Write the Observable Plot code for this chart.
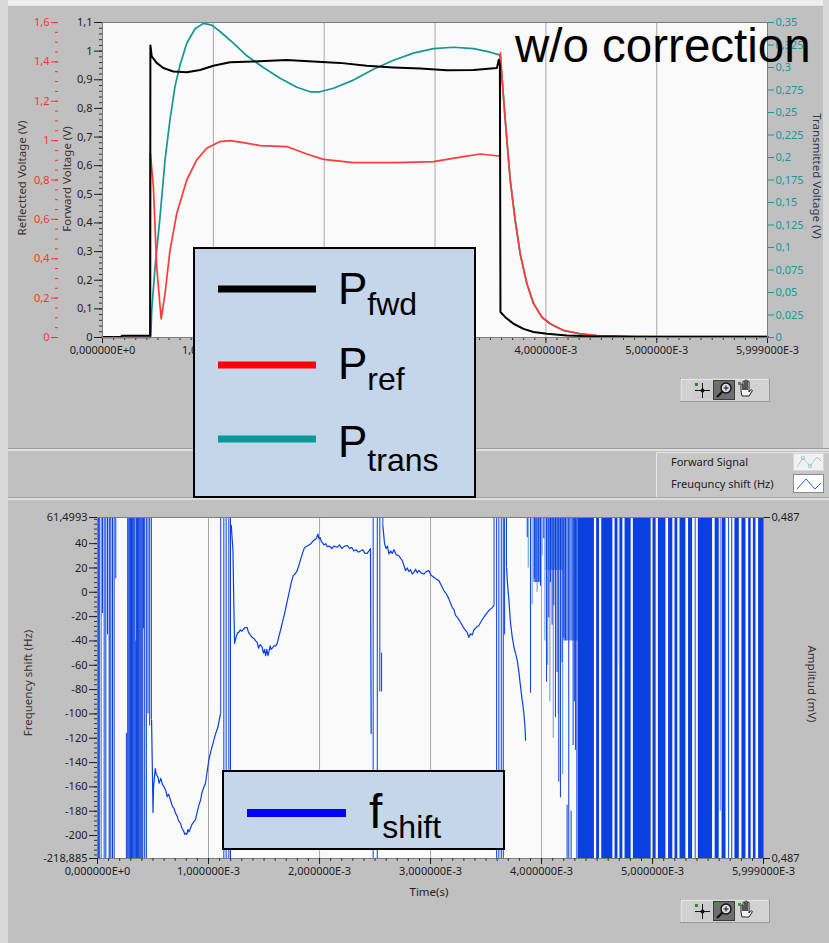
<!DOCTYPE html>
<html><head><meta charset="utf-8">
<script src="https://cdn.jsdelivr.net/npm/d3@7"></script>
<script src="https://cdn.jsdelivr.net/npm/@observablehq/plot@0.6"></script>
<style>
html,body{margin:0;padding:0;background:#c0c0c0;}
#root{position:relative;width:829px;height:943px;overflow:hidden;background:#c0c0c0;}
.bg{position:absolute;}
.layer{position:absolute;left:0;}
.layer svg{display:block;}
</style></head><body><div id="root">
<div class="bg" style="left:0;top:0;width:829px;height:5px;background:#eeeeee"></div>
<div class="bg" style="left:0;top:0;width:8px;height:943px;background:#d8d8d8"></div>
<div class="bg" style="left:823px;top:0;width:6px;height:450px;background:#d8d8d8"></div>
<div class="bg" style="left:8px;top:5px;width:815px;height:1px;background:#e4e4e4"></div>
<div class="bg" style="left:8px;top:448px;width:821px;height:1px;background:#9c9c9c"></div>
<div class="bg" style="left:8px;top:449px;width:821px;height:2px;background:#e2e2e2"></div>
<div class="bg" style="left:8px;top:497px;width:821px;height:1px;background:#a4a4a4"></div>
<div class="bg" style="left:8px;top:498px;width:821px;height:2px;background:#dedede"></div>
</div>
<script>
// ================= DATA: top panel (time in units of 1E-3 s) =================
const fwdTime = [0, 0.17, 0.175, 0.43, 0.432, 0.444, 0.489, 0.549, 0.639, 0.76, 0.88, 1.0, 1.151, 1.362, 1.662, 1.9, 2.143, 2.383, 2.625, 2.866, 3.106, 3.347, 3.558, 3.575, 3.585, 3.59, 3.633, 3.708, 3.798, 3.888, 4.009, 4.19, 4.4, 4.8, 5.999];
const fwdVolt = [0.002, 0.002, 0.006, 0.006, 1.02, 0.982, 0.959, 0.941, 0.929, 0.926, 0.934, 0.949, 0.961, 0.964, 0.969, 0.964, 0.959, 0.949, 0.943, 0.939, 0.933, 0.934, 0.941, 0.97, 0.95, 0.089, 0.071, 0.048, 0.030, 0.019, 0.013, 0.007, 0.004, 0.003, 0.003];

const refTime = [0, 0.43, 0.432, 0.459, 0.489, 0.529, 0.564, 0.609, 0.67, 0.76, 0.85, 0.94, 1.06, 1.151, 1.271, 1.421, 1.662, 1.843, 1.994, 2.264, 2.655, 2.986, 3.256, 3.407, 3.573, 3.586, 3.59, 3.603, 3.633, 3.678, 3.723, 3.768, 3.828, 3.888, 3.964, 4.039, 4.159, 4.31, 4.46, 4.58, 4.7, 5.999];
const refVolt = [0, 0, 0.936, 0.766, 0.358, 0.095, 0.223, 0.443, 0.63, 0.80, 0.902, 0.961, 0.995, 1.0, 0.99, 0.975, 0.97, 0.932, 0.905, 0.888, 0.888, 0.893, 0.919, 0.932, 0.922, 0.927, 1.446, 1.327, 1.106, 0.80, 0.596, 0.426, 0.274, 0.172, 0.103, 0.070, 0.036, 0.019, 0.010, 0.008, 0.004, 0.004];

const transTime = [0, 0.435, 0.444, 0.474, 0.519, 0.564, 0.609, 0.654, 0.70, 0.76, 0.835, 0.91, 0.986, 1.06, 1.181, 1.302, 1.451, 1.602, 1.753, 1.873, 1.963, 2.083, 2.264, 2.444, 2.625, 2.805, 2.986, 3.166, 3.347, 3.497, 3.581, 3.59, 3.603, 3.633, 3.678, 3.723, 3.768, 3.828, 3.888, 3.964, 4.039, 4.159, 4.31, 4.46, 4.8, 5.999];
const transVolt = [0, 0, 0.030, 0.078, 0.134, 0.197, 0.242, 0.279, 0.303, 0.327, 0.343, 0.349, 0.347, 0.340, 0.327, 0.313, 0.300, 0.288, 0.278, 0.273, 0.273, 0.277, 0.286, 0.298, 0.308, 0.316, 0.321, 0.3225, 0.321, 0.317, 0.314, 0.310, 0.290, 0.242, 0.175, 0.130, 0.093, 0.060, 0.038, 0.0226, 0.0153, 0.0078, 0.0041, 0.0022, 0.001, 0];

// tick values
const timeTicks = [0, 1, 2, 3, 4, 5, 5.999];
const gridTimes = [1, 2, 3, 4, 5];
const fwdTicks = [0, 0.1, 0.2, 0.3, 0.4, 0.5, 0.6, 0.7, 0.8, 0.9, 1, 1.1];
const refTicks = [0, 0.2, 0.4, 0.6, 0.8, 1, 1.2, 1.4, 1.6];
const transTicks = [0, 0.025, 0.05, 0.075, 0.1, 0.125, 0.15, 0.175, 0.2, 0.225, 0.25, 0.275, 0.3, 0.325, 0.35];

// ================= DATA: bottom panel =================
const HZ_MAX = 61.4993, HZ_MIN = -218.885;
const shiftTicks = [61.4993, 40, 20, 0, -20, -40, -60, -80, -100, -120, -140, -160, -180, -200, -218.885];
const ampTicks = [61.4993, -218.885];
const ampLabel = "0,487";

const shiftSeg1 = [[0.487,-105],[0.495,-150],[0.50,-181],[0.505,-160],[0.52,-145],[0.53,-150],[0.545,-152],[0.555,-157],[0.57,-153],[0.585,-158],[0.60,-160],[0.615,-163],[0.628,-168],[0.64,-166],[0.658,-171],[0.675,-176],[0.69,-178],[0.705,-182],[0.718,-184],[0.73,-188],[0.748,-190],[0.76,-194],[0.775,-196],[0.785,-199],[0.793,-198],[0.805,-199],[0.815,-195],[0.825,-197],[0.838,-194],[0.85,-191],[0.865,-189],[0.883,-187],[0.895,-182],[0.91,-176],[0.928,-171],[0.94,-165],[0.955,-161],[0.973,-157],[0.985,-149],[1.003,-138],[1.02,-131],[1.035,-126],[1.048,-121.5],[1.065,-116],[1.084,-111],[1.095,-106],[1.108,-100]];
const shiftSeg2 = [[1.205,55],[1.212,45],[1.22,35],[1.228,-10],[1.235,-42],[1.245,-38],[1.255,-35],[1.265,-33],[1.273,-33],[1.285,-31],[1.30,-32],[1.318,-30],[1.33,-29],[1.348,-29],[1.36,-33],[1.375,-35],[1.393,-37],[1.41,-38],[1.425,-40],[1.438,-41],[1.45,-46],[1.465,-43],[1.483,-45],[1.495,-50],[1.505,-47],[1.514,-52],[1.525,-47],[1.535,-52],[1.544,-49],[1.555,-44],[1.565,-47],[1.574,-46],[1.59,-44],[1.605,-44],[1.619,-42],[1.635,-36],[1.649,-31],[1.665,-25],[1.685,-17.5],[1.705,-9],[1.724,-1],[1.745,8],[1.763,13.7],[1.78,15],[1.799,17.8],[1.82,24],[1.835,28.7],[1.85,33],[1.865,36.9],[1.89,38],[1.919,39.7],[1.94,42],[1.964,43.8],[1.975,45],[1.985,47.9],[1.995,44],[2.005,45],[2.015,42],[2.024,41],[2.04,39],[2.055,40],[2.07,37.5],[2.09,38],[2.11,36],[2.13,38],[2.159,37],[2.18,39],[2.2,36],[2.225,38],[2.25,38.5],[2.27,36],[2.29,37],[2.309,34],[2.33,35],[2.35,33],[2.369,34],[2.39,35],[2.41,32],[2.43,32],[2.445,34],[2.459,36],[2.465,-116]];
const shiftSeg3 = [[2.57,55],[2.586,39.7],[2.6,36],[2.612,38],[2.625,31.5],[2.64,34],[2.655,32],[2.67,35],[2.69,31],[2.715,30],[2.73,28],[2.745,26],[2.76,22],[2.775,17.8],[2.79,20],[2.805,17],[2.82,18.6],[2.835,15],[2.85,16.4],[2.865,19],[2.88,16],[2.895,18],[2.915,16],[2.94,15],[2.96,17],[2.985,17.8],[3.005,14],[3.03,12.3],[3.05,11],[3.075,9.6],[3.095,6],[3.12,1.4],[3.14,-1],[3.165,-5.4],[3.18,-9],[3.195,-12.3],[3.21,-14],[3.225,-19],[3.245,-21],[3.27,-24.6],[3.29,-28],[3.315,-31.4],[3.33,-33],[3.345,-37],[3.36,-34],[3.375,-35],[3.39,-31],[3.41,-29],[3.435,-27.3],[3.455,-24],[3.48,-20.5],[3.5,-18],[3.525,-15],[3.55,-13],[3.57,-10.9]];
const shiftSeg4 = [[3.685,20],[3.691,9.6],[3.706,-6.8],[3.72,-25],[3.736,-37],[3.751,-45],[3.765,-50],[3.781,-56],[3.795,-65],[3.811,-78],[3.826,-89],[3.835,-95],[3.841,-100],[3.85,-110],[3.856,-121.6]];

// vertical excursions of the signal: [time, low Hz, high Hz]
const T = HZ_MAX, B = HZ_MIN;
const spikes = [
 [0.01,B,T],[0.02,B,T],[0.045,-17.5,T],[0.06,B,T],[0.075,B,T],[0.09,-35,T],[0.105,B,T],[0.12,B,T],[0.135,B,T],[0.15,B,T],[0.165,11,T],
 [0.26,B,-116],[0.272,B,T],[0.282,B,T],[0.29,B,T],[0.298,B,T],[0.306,B,T],[0.314,B,T],[0.322,B,T],[0.33,B,T],[0.338,B,T],[0.345,B,-40],[0.352,B,T],[0.36,B,T],[0.368,B,T],[0.376,B,T],[0.384,B,T],[0.392,B,T],[0.4,B,T],[0.408,B,T],[0.415,-30,T],[0.425,B,T],[0.44,B,T],[0.455,-100,T],[0.47,-110,T],[0.485,-105,T],
 [1.11,-100,T],[1.138,B,T],[1.159,B,T],[1.183,B,T],[1.198,B,T],
 [2.483,B,T],[2.52,B,T],[2.543,-82,T],[2.559,-82,-50],[2.57,55,T],
 [3.572,-10.9,T],[3.595,B,T],[3.615,B,T],[3.637,B,T],[3.655,B,T],[3.667,-35,T],[3.684,20,T],
 [3.871,45,T],[3.9,-83,T],[3.935,11,T],[3.95,8,T],[3.97,8,T],[3.99,5,T],[4.02,44,T],[4.045,-74,T],[4.065,-21,T],[4.08,8,T],[4.095,-27,T],[4.11,-11,T],[4.125,-103,T],[4.14,-66,T],[4.155,-156,T],[4.17,-169,T],[4.185,-58,T],[4.2,-38,T],[4.215,-40,T],[4.23,B,-175],[4.245,B,T],[4.266,B,-180],[4.284,-126,T],[4.295,-90,T],[4.305,-130,T],[4.318,B,T]
];
const lightSpikes = [
 [0.035,B,T],[0.11,B,T],[3.88,20,T],[3.915,-10,T],[3.96,0,T],[4.005,30,T],[4.03,-40,T],[4.055,-60,T],[4.075,-90,T],[4.105,-120,T],[4.15,-100,T],[4.19,-150,T],[4.7,-60,T],[5.61,-180,T]
];
// bands where the signal swings faster than one pixel: [t1, t2, low Hz, high Hz]
const lightBlocks = [[3.93,3.995,8,T],[4.04,4.2,18,T],[4.2,4.33,-40,T]];
const denseBlocks = [
 [4.33,4.476,B,T],[4.496,4.522,B,T],[4.542,4.642,B,T],[4.662,4.688,B,T],[4.706,4.732,B,T],[4.752,4.807,B,T],[4.827,4.987,B,T],[5.007,5.032,B,T],[5.052,5.12,B,T],[5.144,5.182,B,T],[5.202,5.227,B,T],[5.247,5.3,B,T],[5.324,5.36,B,T],[5.384,5.392,B,T],[5.412,5.54,B,T],[5.564,5.6,B,T],[5.626,5.661,B,T],[5.685,5.693,B,T],[5.713,5.722,B,T],[5.742,5.781,B,T],[5.805,5.841,B,T],[5.865,5.888,B,T],[5.908,5.931,B,T],[5.955,5.999,B,T]
];

// ================= helpers =================
const FONT = "'Noto Sans','DejaVu Sans',sans-serif";
const fmtDec = d => String(+(+d).toFixed(4)).replace(".", ",");
const fmtTime = d => d === 0 ? "0,000000E+0" : (+d).toFixed(6).replace(".", ",") + "E-3";
const RED = "#ff3a3a", TEAL = "#149696", BLUE = "#0a3fe0", LIGHT = "#6b8ff0";
const root = document.getElementById("root");
function addLayer(svg, top) {
  const d = document.createElement("div");
  d.className = "layer"; d.style.top = top + "px";
  d.appendChild(svg); root.appendChild(d);
}
const style = {background: "none", fontFamily: FONT, fontSize: "11px", overflow: "visible", color: "#1e1e1e"};
// minor ticks: tick marks only (fill none removes the text part of the axis)
const minor = (values, opts) => Plot.axisY(values, {tickSize: 3, fill: "none", stroke: "#333", label: null, ...opts});
const minorX = values => Plot.axisX(values, {tickSize: 3, fill: "none", stroke: "#333", label: null});

// ================= top panel: stacked layers sharing x =================
const topPlot = (ydom, marks) => Plot.plot({
  width: 829, height: 450, marginLeft: 102, marginRight: 62, marginTop: 22, marginBottom: 113,
  x: {domain: [0, 5.999], axis: null}, y: {domain: ydom, axis: null}, style, marks
});
const minorTime = d3.range(0, 5.95, 0.1);

addLayer(topPlot([0, 1.1], [
  Plot.frame({fill: "#fafafa"}),
  Plot.ruleX(gridTimes, {stroke: "#a6a6a6"}),
  minorX(minorTime),
  Plot.axisX(timeTicks, {tickSize: 6, tickPadding: 3, tickFormat: fmtTime, label: null, color: "#1e1e1e"}),
  minor(d3.range(0, 1.1001, 0.02)),
  Plot.axisY(fwdTicks, {tickSize: 8, tickPadding: 2, tickFormat: fmtDec, label: null, color: "#1e1e1e"})
]), 0);

addLayer(topPlot([0, 0.35], [
  Plot.axisY(transTicks, {anchor: "right", tickSize: 6, tickPadding: 2, tickFormat: fmtDec, label: null, color: "#179a9a"}),
  Plot.line(transTime, {x: transTime, y: transVolt, stroke: TEAL, strokeWidth: 1.7})
]), 0);

addLayer(topPlot([0, 1.6], [
  minor(d3.range(0, 1.6001, 0.05), {dx: -44, stroke: "#ff3030"}),
  Plot.axisY(refTicks, {tickSize: 7, dx: -44, tickPadding: 2, tickFormat: fmtDec, label: null, color: "#ff3030"}),
  Plot.line(refTime, {x: refTime, y: refVolt, stroke: RED, strokeWidth: 1.7})
]), 0);

addLayer(topPlot([0, 1.1], [
  Plot.line(fwdTime, {x: fwdTime, y: fwdVolt, stroke: "#000", strokeWidth: 2}),
  Plot.frame({stroke: "#7c7c7c"})
]), 0);

// ================= bottom panel =================
addLayer(Plot.plot({
  width: 829, height: 448, marginLeft: 97, marginRight: 66, marginTop: 22, marginBottom: 85,
  x: {domain: [0, 5.999], axis: null}, y: {domain: [HZ_MIN, HZ_MAX], axis: null}, style,
  marks: [
    Plot.frame({fill: "#fafafa"}),
    Plot.ruleX(gridTimes, {stroke: "#a6a6a6"}),
    Plot.rect(lightBlocks, {x1: d => d[0], x2: d => d[1], y1: d => d[2], y2: d => d[3], fill: LIGHT}),
    Plot.rect(denseBlocks, {x1: d => d[0], x2: d => d[1], y1: d => d[2], y2: d => d[3], fill: BLUE}),
    Plot.ruleX(lightSpikes, {x: d => d[0], y1: d => d[1], y2: d => d[2], stroke: LIGHT}),
    Plot.ruleX(spikes, {x: d => d[0], y1: d => d[1], y2: d => d[2], stroke: BLUE}),
    ...[shiftSeg1, shiftSeg2, shiftSeg3, shiftSeg4].map(seg =>
      Plot.line(seg, {x: d => d[0], y: d => d[1], stroke: BLUE, strokeWidth: 1.2, clip: true})),
    Plot.frame({stroke: "#7c7c7c"}),
    minorX(minorTime),
    Plot.axisX(timeTicks, {tickSize: 6, tickPadding: 3, tickFormat: fmtTime, label: null, color: "#1e1e1e"}),
    minor(d3.range(-216, 61, 4)),
    Plot.axisY(shiftTicks, {tickSize: 8, tickPadding: 2, tickFormat: fmtDec, label: null, color: "#1e1e1e"}),
    Plot.axisY(ampTicks, {anchor: "right", tickSize: 6, tickPadding: 2, tickFormat: () => ampLabel, label: null, color: "#1e1e1e"})
  ]
}), 495);

// ================= annotations overlay =================
function tools(y) {
  return `<g transform="translate(680,${y})">
   <rect x="0.5" y="0.5" width="89" height="23" fill="#d2d2d2" stroke="#9a9a9a"/>
   <path d="M1 23V1H89" fill="none" stroke="#f4f4f4"/>
   <rect x="13" y="3" width="19" height="18" fill="#cdcdcd"/>
   <line x1="22.5" y1="5" x2="22.5" y2="20" stroke="#111"/>
   <line x1="15" y1="12.5" x2="30" y2="12.5" stroke="#111"/>
   <circle cx="22.5" cy="12.5" r="2" fill="#111"/>
   <rect x="15" y="5" width="3" height="3" fill="#2c8c2c"/>
   <rect x="33.5" y="2.5" width="21" height="19" fill="#6e6e6e" stroke="#3c3c3c"/>
   <circle cx="46" cy="10" r="5" fill="#d8dde8" stroke="#111" stroke-width="1.4"/>
   <path d="M43.5 10h5M46 7.5v5" stroke="#111"/>
   <line x1="42.3" y1="13.7" x2="37" y2="19" stroke="#111" stroke-width="2.2"/>
   <rect x="36" y="4" width="3" height="3" fill="#3a9a3a"/>
   <path d="M61 13v-6a1 1 0 0 1 2 0v5v-8a1 1 0 0 1 2 0v8v-9a1 1 0 0 1 2 0v9v-8a1 1 0 0 1 2 0v10l1.5-2a1 1 0 0 1 1.7 1l-3.2 5h-7z" fill="#f5f5f5" stroke="#111" stroke-width="0.9"/>
   <rect x="58" y="4" width="3" height="3" fill="#3a9a3a"/>
  </g>`;
}
const AR = "'Liberation Sans',Arial,sans-serif";
const overlay = `
<svg width="829" height="943" style="position:absolute;left:0;top:0" xmlns="http://www.w3.org/2000/svg" font-family="${FONT}">
 <g font-size="11.5" fill="#3b3232" text-anchor="middle" style="white-space:pre">
  <text transform="translate(26,178) rotate(-90)">Reflectted Voltage  (V)</text>
  <text transform="translate(71,179) rotate(-90)">Forward Voltage (V)</text>
  <text transform="translate(813,176) rotate(90)" fill="#2c3a52">Transmitted Voltage (V)</text>
  <text transform="translate(32,683) rotate(-90)">Frequency shift (Hz)</text>
  <text transform="translate(808,684) rotate(90)">Amplitud (mV)</text>
  <text x="429" y="896" fill="#222">Time(s)</text>
 </g>
 <text x="515" y="62" font-family="${AR}" font-size="47.5" fill="#000">w/o correction</text>
 ${tools(378)}
 ${tools(899)}
 <!-- plot legend strip -->
 <rect x="656" y="452" width="173" height="45" fill="#c6c6c6"/>
 <path d="M656.5 497V452.5H829" fill="none" stroke="#e6e6e6"/>
 <text x="671" y="466" font-size="11" fill="#222">Forward Signal</text>
 <text x="671" y="488" font-size="11" fill="#222">Freuquncy shift (Hz)</text>
 <rect x="793.5" y="453.5" width="30" height="17" fill="#f0f2f2" stroke="#d8d8d8"/>
 <polyline points="797,467 803,458 810,466 817,457 821,461" fill="none" stroke="#9fd0d0" stroke-width="1"/>
 <circle cx="803" cy="458" r="1.8" fill="none" stroke="#9fd0d0"/><circle cx="810" cy="466" r="1.8" fill="none" stroke="#9fd0d0"/>
 <rect x="793.5" y="474.5" width="30" height="18" fill="#ffffff" stroke="#8a8a8a"/>
 <polyline points="797,489 806,479 815,489 821,483" fill="none" stroke="#2a5ee8" stroke-width="1"/>
 <!-- legend: top -->
 <rect x="194" y="248" width="281" height="249" fill="#c5d5ea" stroke="#000" stroke-width="2"/>
 <rect x="218" y="285.5" width="98" height="7" fill="#000"/>
 <rect x="218" y="361.5" width="98" height="7" fill="#ff0000"/>
 <rect x="218" y="435.5" width="98" height="7" fill="#0a9a96"/>
 <g font-family="${AR}" fill="#000">
  <text x="338" y="304" font-size="44">P<tspan font-size="32" dy="11">fwd</tspan></text>
  <text x="338" y="379" font-size="44">P<tspan font-size="32" dy="11">ref</tspan></text>
  <text x="338" y="457" font-size="44">P<tspan font-size="32" dy="14">trans</tspan></text>
 </g>
 <!-- legend: bottom -->
 <rect x="223" y="771" width="281" height="78" fill="#c5d5ea" stroke="#000" stroke-width="2"/>
 <rect x="247" y="809" width="99" height="8" fill="#0000ff"/>
 <text x="369" y="828" font-family="${AR}" font-size="48" fill="#000">f<tspan font-size="32" dy="10">shift</tspan></text>
</svg>`;
const ovDiv = document.createElement("div");
ovDiv.innerHTML = overlay;
root.appendChild(ovDiv.firstElementChild);
</script></body></html>
